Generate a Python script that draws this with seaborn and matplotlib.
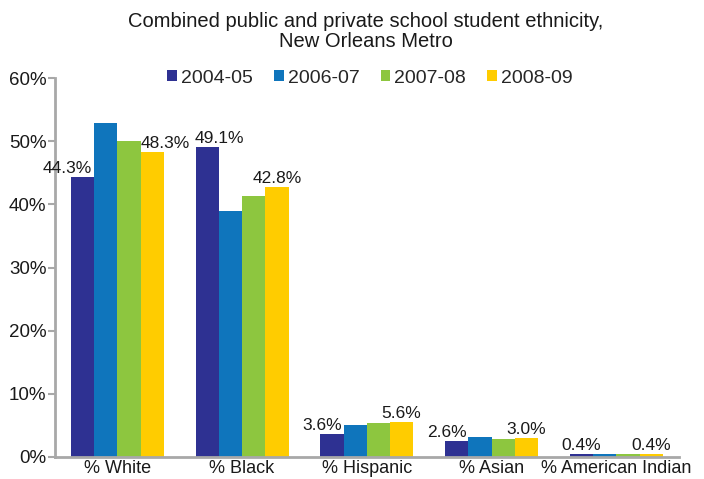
import pandas as pd
import seaborn as sns
import matplotlib.pyplot as plt
from matplotlib.ticker import FuncFormatter

categories = ['% White', '% Black', '% Hispanic', '% Asian', '% American Indian']
years = ['2004-05', '2006-07', '2007-08', '2008-09']
v2004 = [44.3, 49.1, 3.6, 2.6, 0.4]
v2006 = [52.9, 38.9, 5.0, 3.2, 0.4]
v2007 = [50.1, 41.4, 5.3, 2.8, 0.4]
v2008 = [48.3, 42.8, 5.6, 3.0, 0.4]
colors = ['#2E3192', '#0F75BC', '#8DC63F', '#FFCC00']

# horizontal nudges (pixels) for the value labels, as placed in the original
nudge_first = [-15, 12, -10, -10, 0]
nudge_last = [13, 0, 0, 0, 0]

rows = []
for yr, vals in zip(years, [v2004, v2006, v2007, v2008]):
    for c, v in zip(categories, vals):
        rows.append({'Ethnicity': c, 'Year': yr, 'Share': v})
df = pd.DataFrame(rows)

sns.set_style('white')
plt.rcParams['font.family'] = ['Liberation Sans', 'DejaVu Sans']
txt = '#1a1a1a'
grey = '#a8a8a8'

fig = plt.figure(figsize=(7.04, 4.79), dpi=100)
ax = fig.add_axes([0.078, 0.046, 0.886, 0.791])
sns.barplot(data=df, x='Ethnicity', y='Share', hue='Year', order=categories,
            hue_order=years, palette=colors, width=0.745, saturation=1,
            linewidth=0, edgecolor='none', ax=ax)

# only first and last year get value labels
for cont, vals, nudges in [(ax.containers[0], v2004, nudge_first),
                           (ax.containers[3], v2008, nudge_last)]:
    for bar, v, dx in zip(cont.patches, vals, nudges):
        ax.annotate(f'{v:.1f}%', (bar.get_x() + bar.get_width() / 2, bar.get_height()),
                    xytext=(dx, 1), textcoords='offset pixels', ha='center', va='bottom',
                    fontsize=12.5, color=txt)

ax.set_xlim(-0.5, 4.5)
ax.set_ylim(0, 60)
ax.set_yticks(range(0, 61, 10))
ax.yaxis.set_major_formatter(FuncFormatter(lambda v, p: f'{v:.0f}%'))
ax.set_xlabel('')
ax.set_ylabel('')
ax.tick_params(axis='y', labelsize=13.5, length=5, width=1.5, pad=1, left=True,
               colors=grey, labelcolor=txt)
ax.tick_params(axis='x', labelsize=13, length=0, pad=2, labelcolor=txt)
for s in ['top', 'right']:
    ax.spines[s].set_visible(False)
for s in ['left', 'bottom']:
    ax.spines[s].set_color(grey)
    ax.spines[s].set_linewidth(2)

ax.legend(loc='center', bbox_to_anchor=(0.505, 1.0), ncol=4, frameon=False,
          fontsize=14, handlelength=0.5, handleheight=0.5, handletextpad=0.2,
          columnspacing=1.1, borderaxespad=0)

fig.suptitle('Combined public and private school student ethnicity,\nNew Orleans Metro',
             y=0.975, x=0.52, fontsize=14.5, color=txt, linespacing=1.1)

fig.savefig('out.png', dpi=100)
